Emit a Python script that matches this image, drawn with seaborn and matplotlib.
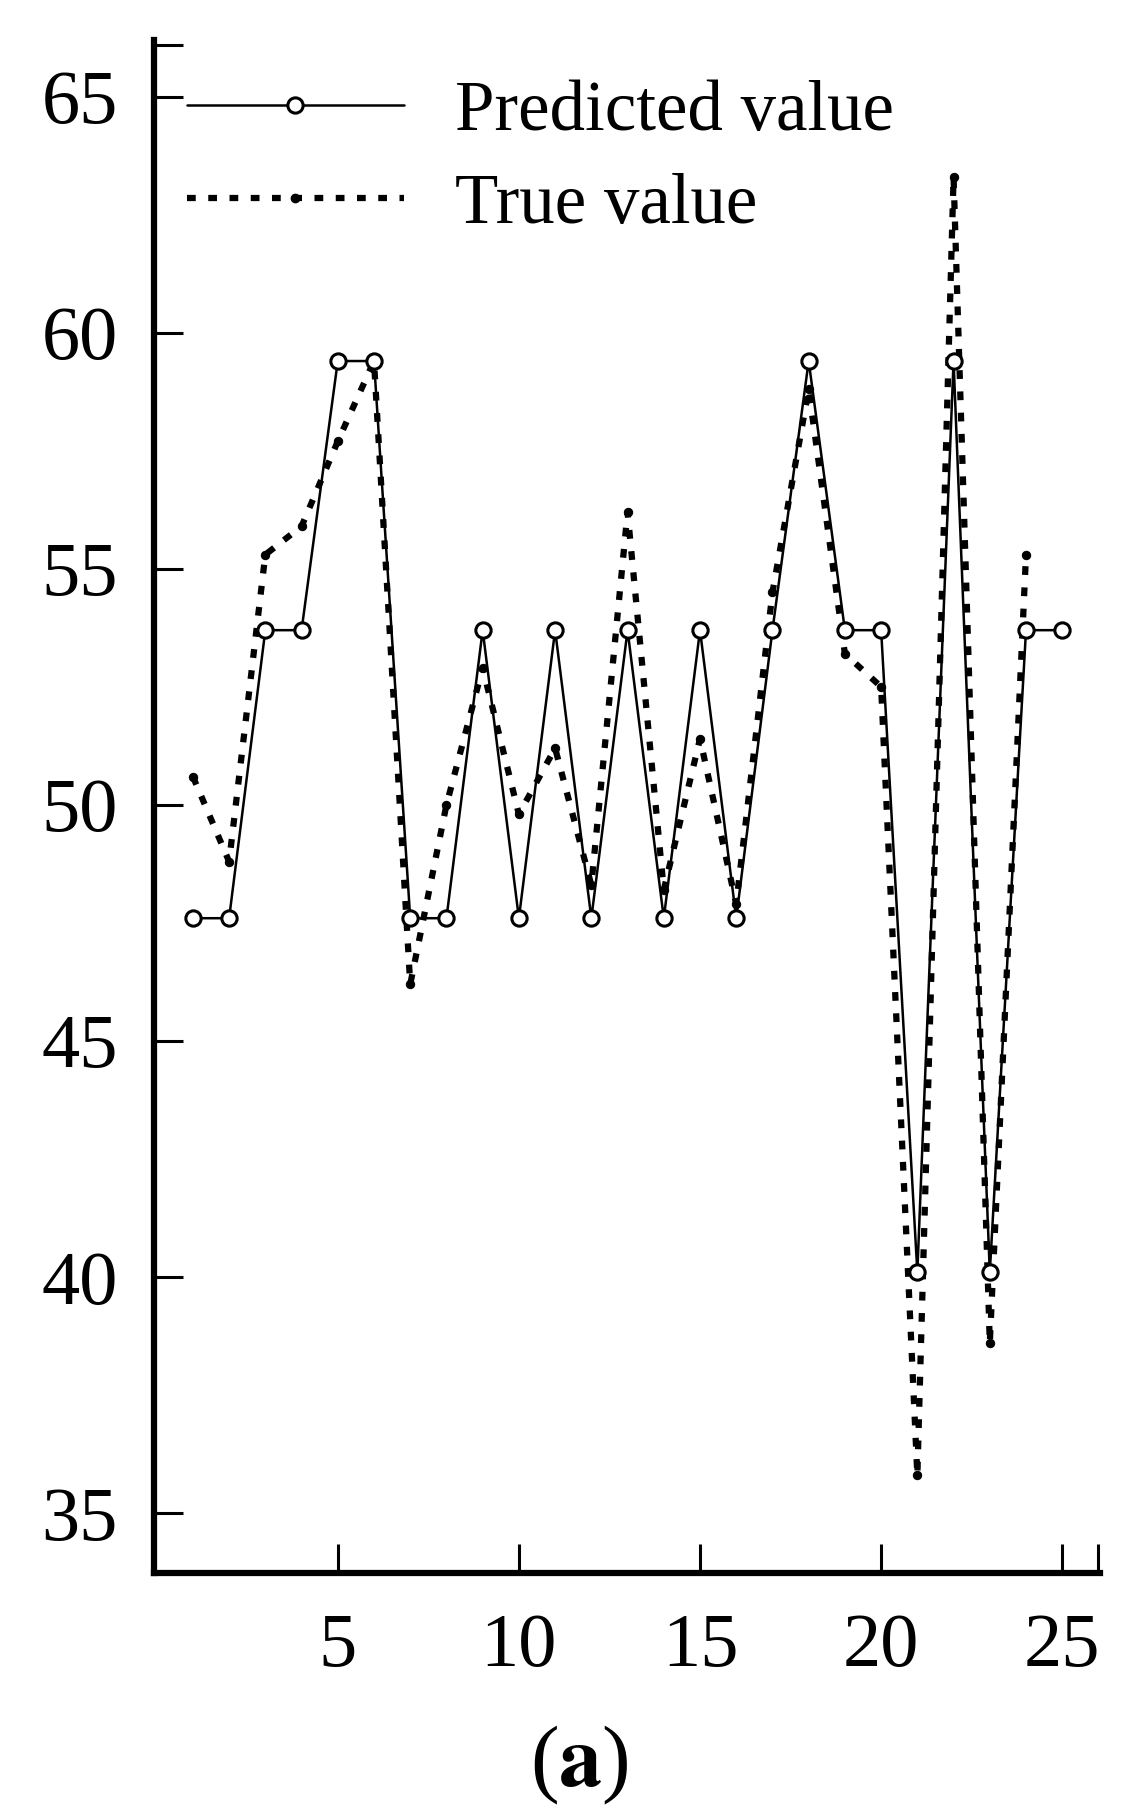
import numpy as np
import pandas as pd
import seaborn as sns
import matplotlib.pyplot as plt
from matplotlib.lines import Line2D

# predicted value at each sample (open circles, solid line)
pred_x = list(range(1, 26))
pred_y = [47.6, 47.6, 53.7, 53.7, 59.4, 59.4, 47.6, 47.6, 53.7, 47.6,
          53.7, 47.6, 53.7, 47.6, 53.7, 47.6, 53.7, 59.4, 53.7, 53.7,
          40.1, 59.4, 40.1, 53.7, 53.7]

# true value (dotted line)
true_x = list(range(1, 25))
true_y = [50.6, 48.8, 55.3, 55.9, 57.7, 59.4, 46.2, 50.0, 52.9, 49.8,
          51.2, 48.3, 56.2, 48.2, 51.4, 47.9, 54.5, 58.8, 53.2, 52.5,
          35.8, 63.3, 38.6, 55.3]

yticks = [35, 40, 45, 50, 55, 60, 65]
xticks = [5, 10, 15, 20, 25]

sns.set_style("ticks")
plt.rcParams['font.family'] = ['Liberation Serif', 'DejaVu Serif']
plt.rcParams['mathtext.fontset'] = 'stix'
plt.rcParams['text.color'] = 'black'

fig = plt.figure(figsize=(11.39, 18.16), dpi=100)
ax = fig.add_axes([0.135, 0.134, 0.831, 0.844])

pred = pd.DataFrame({"x": pred_x, "y": pred_y})
true = pd.DataFrame({"x": true_x, "y": true_y})

sns.lineplot(data=true, x="x", y="y", ax=ax, color="black", lw=4.5,
             linestyle=(0, (1.4, 2.0)), marker="o", markersize=6,
             markerfacecolor="black", markeredgecolor="black")
sns.lineplot(data=pred, x="x", y="y", ax=ax, color="black", lw=1.8,
             marker="o", markersize=11, markerfacecolor="white",
             markeredgecolor="black", markeredgewidth=2.2)

ax.set_xlim(-0.08, 26.05)
ax.set_ylim(33.74, 66.2)
ax.set_xticks(xticks)
ax.set_yticks(yticks)
ax.set_xticks([26.0], minor=True)
ax.set_yticks([66.1], minor=True)
ax.set_xlabel("")
ax.set_ylabel("")
sns.despine(ax=ax)
for s in ["left", "bottom"]:
    ax.spines[s].set_linewidth(4.5)
    ax.spines[s].set_color("black")
ax.tick_params(which="both", direction="in", length=21, width=2.2,
               labelsize=55, colors="black")
ax.tick_params(axis="x", which="major", pad=29)
ax.tick_params(axis="y", which="major", pad=26)

handles = [
    Line2D([], [], color="black", lw=1.8, marker="o", markersize=11,
           markerfacecolor="white", markeredgewidth=2.2),
    Line2D([], [], color="black", lw=4.5, linestyle=(0, (1.4, 2.0)),
           marker="o", markersize=6),
]
leg = ax.legend(handles, ["Predicted value", "True value"], loc="upper left",
                bbox_to_anchor=(0.035, 0.974), frameon=False, fontsize=51,
                handlelength=3.06, handletextpad=0.72, borderpad=0,
                labelspacing=0.4, borderaxespad=0, numpoints=1)

fig.text(0.509, 0.028, r"($\mathbf{a}$)", ha="center", va="center",
         fontsize=62)

fig.savefig("out.png", dpi=100)
